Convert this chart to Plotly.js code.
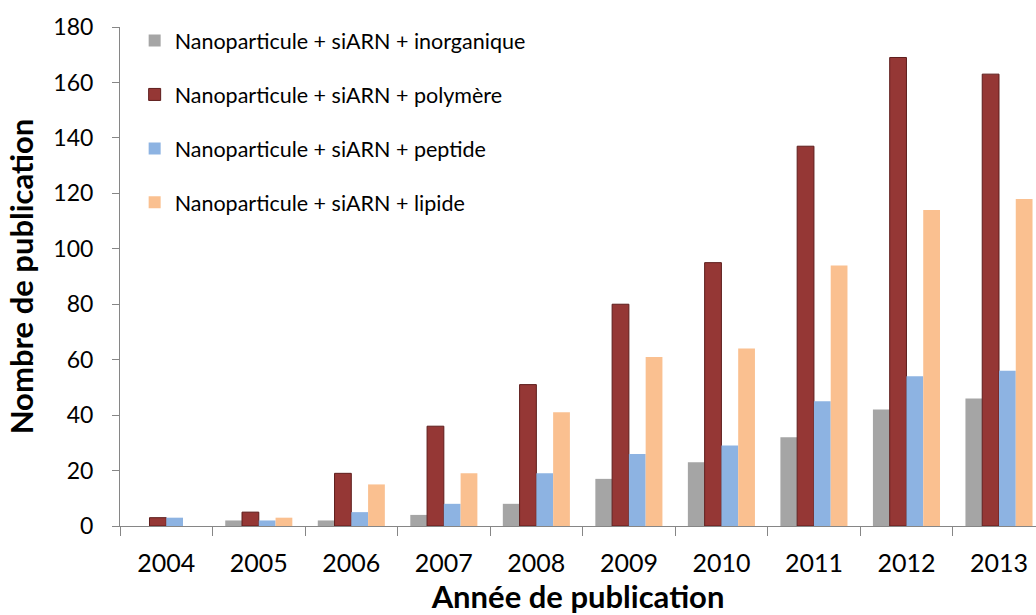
<!DOCTYPE html>
<html>
<head>
<meta charset="utf-8">
<script src="https://cdn.plot.ly/plotly-3.0.1.min.js"></script>
<style>html,body{margin:0;padding:0;background:#fff;}#chart{width:1036px;height:615px;}</style>
</head>
<body>
<div id="chart"></div>
<script>
const years = ["2004","2005","2006","2007","2008","2009","2010","2011","2012","2013"];
const seriesNames = [
  "Nanoparticule + siARN + inorganique",
  "Nanoparticule + siARN + polymère",
  "Nanoparticule + siARN + peptide",
  "Nanoparticule + siARN + lipide"
];
const inorganique = [0, 2, 2, 4, 8, 17, 23, 32, 42, 46];
const polymere    = [3, 5, 19, 36, 51, 80, 95, 137, 169, 163];
const peptide     = [3, 2, 5, 8, 19, 26, 29, 45, 54, 56];
const lipide      = [0, 3, 15, 19, 41, 61, 64, 94, 114, 118];

const colors = ["#a5a5a5", "#953735", "#8db3e2", "#fac090"];
const lineColors = ["#a5a5a5", "#5e1d1c", "#8db3e2", "#fac090"];
const values = [inorganique, polymere, peptide, lipide];

const font = "Lato, 'Open Sans', sans-serif";
const traces = values.map((v, i) => ({
  type: "bar",
  name: seriesNames[i],
  x: years,
  y: v,
  legendgroup: "g" + i,
  marker: {color: colors[i], line: {color: lineColors[i], width: i === 1 ? 1 : 0}}
}));

const layout = {
  width: 1036, height: 615,
  margin: {l: 120, r: 0, t: 27, b: 89},
  paper_bgcolor: "#fff", plot_bgcolor: "#fff",
  barmode: "group", bargap: 0.275, bargroupgap: 0,
  showlegend: true,
  legend: {
    x: 0.016, y: 1.014, xanchor: "left", yanchor: "top",
    bgcolor: "rgba(0,0,0,0)",
    font: {family: font, size: 21.5, color: "#000"},
    tracegroupgap: 23
  },
  xaxis: {
    type: "category",
    range: [-0.5, 9.4],
    showline: true, linecolor: "#868686", linewidth: 1,
    ticks: "outside", tickson: "boundaries", ticklen: 9, tickcolor: "#868686",
    ticklabelstandoff: 15,
    tickfont: {family: font, size: 25, color: "#000"},
    showgrid: false, zeroline: false,
    title: {text: "Année de publication", font: {family: font, size: 31, color: "#000", weight: "bold"}, standoff: 2}
  },
  yaxis: {
    range: [0, 180], tickvals: [0,20,40,60,80,100,120,140,160,180],
    showline: true, linecolor: "#868686", linewidth: 1,
    ticks: "outside", ticklen: 7, tickcolor: "#868686",
    ticklabelstandoff: 14,
    tickfont: {family: font, size: 23, color: "#000"},
    showgrid: false, zeroline: false,
    title: {text: "Nombre de publication", font: {family: font, size: 31, color: "#000", weight: "bold"}, standoff: 10}
  }
};

Plotly.newPlot("chart", traces, layout, {displayModeBar: false, staticPlot: true});
</script>
</body>
</html>
